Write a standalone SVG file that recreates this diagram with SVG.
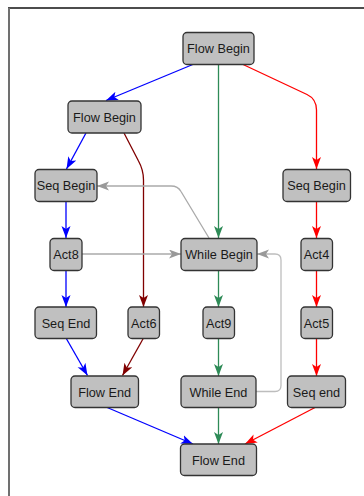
<svg xmlns="http://www.w3.org/2000/svg" width="364" height="496" viewBox="0 0 364 496">
  <style>
    .node rect { fill: #c0c0c0; stroke: #333333; stroke-width: 1.3; }
    .node text { font-family: "Liberation Sans", Arial, sans-serif; font-size: 12.7px; fill: #1a1a1a; text-anchor: middle; }
    .edge { fill: none; stroke-width: 1.3; }
    .blue { stroke: #0000ff; }
    .red { stroke: #ff0000; }
    .green { stroke: #2e8b57; }
    .maroon { stroke: #800000; }
    .gray { stroke: #aaaaaa; }
    .lgray { stroke: #bdbdbd; }
  </style>
  <defs>
    <marker id="ah-blue" markerUnits="userSpaceOnUse" markerWidth="13" markerHeight="10" refX="12" refY="4.5" orient="auto">
      <path d="M0,0 L12,4.5 L0,9 L3,4.5 z" fill="#0000ff"/>
    </marker>
    <marker id="ah-red" markerUnits="userSpaceOnUse" markerWidth="13" markerHeight="10" refX="12" refY="4.5" orient="auto">
      <path d="M0,0 L12,4.5 L0,9 L3,4.5 z" fill="#ff0000"/>
    </marker>
    <marker id="ah-green" markerUnits="userSpaceOnUse" markerWidth="13" markerHeight="10" refX="12" refY="4.5" orient="auto">
      <path d="M0,0 L12,4.5 L0,9 L3,4.5 z" fill="#2e8b57"/>
    </marker>
    <marker id="ah-maroon" markerUnits="userSpaceOnUse" markerWidth="13" markerHeight="10" refX="12" refY="4.5" orient="auto">
      <path d="M0,0 L12,4.5 L0,9 L3,4.5 z" fill="#800000"/>
    </marker>
    <marker id="ah-gray" markerUnits="userSpaceOnUse" markerWidth="13" markerHeight="10" refX="12" refY="4.5" orient="auto">
      <path d="M0,0 L12,4.5 L0,9 L3,4.5 z" fill="#999999"/>
    </marker>
  </defs>

  <!-- frame -->
  <line x1="8" y1="8" x2="364" y2="8" stroke="#111111" stroke-width="1.4"/>
  <line x1="9" y1="8" x2="9" y2="496" stroke="#707070" stroke-width="2"/>

  <!-- connectors -->
  <g id="edges">
    <path class="edge blue" d="M194,64 L106,100.5" marker-end="url(#ah-blue)"/>
    <path class="edge green" d="M218.5,64 V238" marker-end="url(#ah-green)"/>
    <path class="edge red" d="M242,64 L307,94.5 Q316.5,99 316.5,110 V169" marker-end="url(#ah-red)"/>
    <path class="edge blue" d="M86,133 L66.5,169" marker-end="url(#ah-blue)"/>
    <path class="edge maroon" d="M124,133 L138.5,161 Q143.5,170 143.5,180 V307" marker-end="url(#ah-maroon)"/>
    <path class="edge blue" d="M66,202 V238" marker-end="url(#ah-blue)"/>
    <path class="edge blue" d="M66,270 V307" marker-end="url(#ah-blue)"/>
    <path class="edge red" d="M316.5,202 V238" marker-end="url(#ah-red)"/>
    <path class="edge red" d="M316.5,270 V307" marker-end="url(#ah-red)"/>
    <path class="edge red" d="M316.5,338 V376" marker-end="url(#ah-red)"/>
    <path class="edge green" d="M218.5,270 V307" marker-end="url(#ah-green)"/>
    <path class="edge green" d="M218.5,338 V376" marker-end="url(#ah-green)"/>
    <path class="edge gray" d="M82,254 H181" marker-end="url(#ah-gray)"/>
    <path class="edge gray" d="M209,238 L181,191.5 Q178,186 171,186 H97" marker-end="url(#ah-gray)"/>
    <path class="edge lgray" d="M256,391.5 H275 Q281,391.5 281,385.5 V260 Q281,254 275,254 H257" marker-end="url(#ah-gray)"/>
    <path class="edge blue" d="M66,338 L87.5,375.5" marker-end="url(#ah-blue)"/>
    <path class="edge maroon" d="M143.5,338 L122.5,375.5" marker-end="url(#ah-maroon)"/>
    <path class="edge blue" d="M106,407 L193,444" marker-end="url(#ah-blue)"/>
    <path class="edge green" d="M218.5,407 V444" marker-end="url(#ah-green)"/>
    <path class="edge red" d="M316,407 L245,444" marker-end="url(#ah-red)"/>
  </g>

  <!-- nodes -->
  <g id="flow-begin-top" class="node">
    <rect x="183" y="32.5" width="71" height="32" rx="4"/>
    <text x="218.5" y="53">Flow Begin</text>
  </g>
  <g id="flow-begin-left" class="node">
    <rect x="68" y="101" width="73" height="32" rx="4"/>
    <text x="104.5" y="121.5">Flow Begin</text>
  </g>
  <g id="seq-begin-left" class="node">
    <rect x="35" y="169.5" width="62" height="32" rx="4"/>
    <text x="66" y="190">Seq Begin</text>
  </g>
  <g id="seq-begin-right" class="node">
    <rect x="283" y="169.5" width="67.5" height="32" rx="4"/>
    <text x="316.5" y="190">Seq Begin</text>
  </g>
  <g id="act8" class="node">
    <rect x="50" y="238.5" width="32" height="32" rx="4"/>
    <text x="66" y="259">Act8</text>
  </g>
  <g id="while-begin" class="node">
    <rect x="181" y="238.5" width="76" height="32" rx="4"/>
    <text x="219" y="259">While Begin</text>
  </g>
  <g id="act4" class="node">
    <rect x="301" y="238.5" width="31.5" height="32" rx="4"/>
    <text x="316.5" y="259">Act4</text>
  </g>
  <g id="seq-end-left" class="node">
    <rect x="35" y="307" width="61.5" height="31.5" rx="4"/>
    <text x="66" y="327.5">Seq End</text>
  </g>
  <g id="act6" class="node">
    <rect x="128" y="307" width="31.5" height="31.5" rx="4"/>
    <text x="143.8" y="327.5">Act6</text>
  </g>
  <g id="act9" class="node">
    <rect x="203" y="307" width="31.5" height="31.5" rx="4"/>
    <text x="218.7" y="327.5">Act9</text>
  </g>
  <g id="act5" class="node">
    <rect x="301" y="307" width="31.5" height="31.5" rx="4"/>
    <text x="316.5" y="327.5">Act5</text>
  </g>
  <g id="flow-end-left" class="node">
    <rect x="71" y="376" width="67.5" height="31.5" rx="4"/>
    <text x="104.7" y="396.5">Flow End</text>
  </g>
  <g id="while-end" class="node">
    <rect x="181" y="376" width="75" height="31.5" rx="4"/>
    <text x="218.5" y="396.5">While End</text>
  </g>
  <g id="seq-end-right" class="node">
    <rect x="287.5" y="376" width="58" height="31.5" rx="4"/>
    <text x="316.5" y="396.5">Seq end</text>
  </g>
  <g id="flow-end-bottom" class="node">
    <rect x="180.5" y="444" width="76" height="31.5" rx="4"/>
    <text x="218.5" y="464.5">Flow End</text>
  </g>
</svg>
